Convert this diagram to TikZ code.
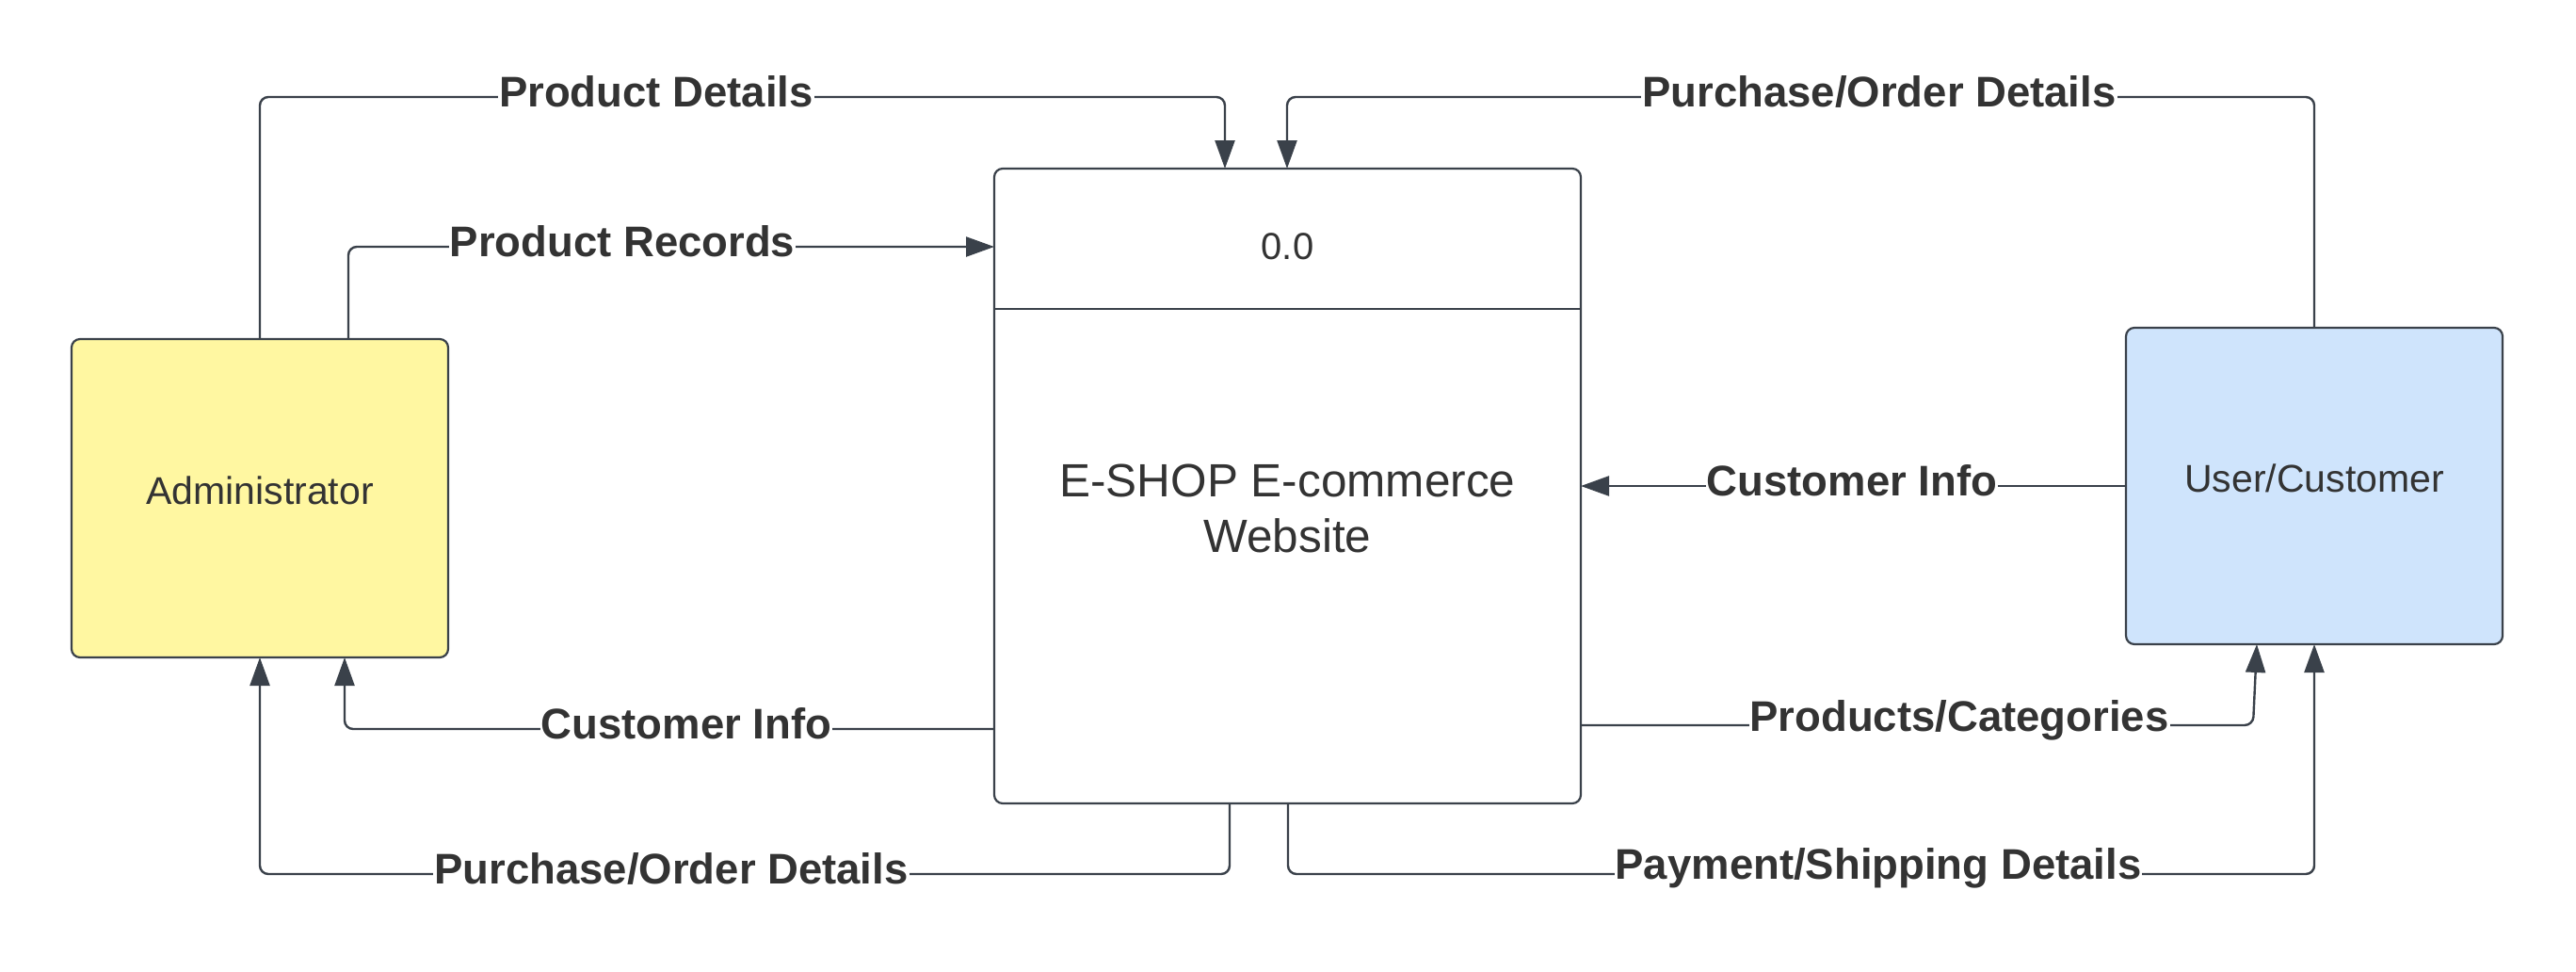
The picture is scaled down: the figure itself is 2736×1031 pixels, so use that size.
\documentclass[tikz,border=0pt]{standalone}
\usepackage{fontspec}
\setmainfont{Liberation Sans}
\usetikzlibrary{arrows.meta,calc}
\definecolor{lineC}{HTML}{3A414A}
\definecolor{textC}{HTML}{333333}
\definecolor{adminFill}{HTML}{FFF7A1}
\definecolor{userFill}{HTML}{CFE4FC}
\begin{document}
\begin{tikzpicture}[x=1pt,y=-1pt,
  box/.style={draw=lineC,line width=2.2pt,rounded corners=9pt,inner sep=0pt,
    text=textC,font=\fontsize{41}{50}\selectfont},
  flow/.style={draw=lineC,line width=2.4pt,rounded corners=9pt,
    -{Triangle[length=30pt,width=21pt]}},
  lbl/.style={fill=white,text=textC,inner sep=1pt,
    font=\bfseries\fontsize{45.5}{50}\selectfont}]
\useasboundingbox (0,0) rectangle (2736,1031);
% nodes
\node[box,fill=adminFill,minimum width=400pt,minimum height=338pt] (admin) at (276,529) {};
\node[text=textC,font=\fontsize{41}{50}\selectfont] (admintxt) at (276,521) {Administrator};
\node[box,fill=white,minimum width=623pt,minimum height=674pt] (proc) at (1367.5,516) {};
\node[box,fill=userFill,minimum width=400pt,minimum height=336pt] (user) at (2458,516) {};
\node[text=textC,font=\fontsize{41}{50}\selectfont] (usertxt) at (2458,508) {User/Customer};
\coordinate (divL) at (1056,328);
\coordinate (divR) at (1679,328);
\draw[draw=lineC,line width=2.6pt] (divL) -- (divR);
\node[text=textC,font=\fontsize{40}{50}\selectfont] (hdr) at (1367.5,262) {0.0};
\node[text=textC,font=\fontsize{49.5}{59}\selectfont,align=center] (ptxt) at (1367.5,540) {E-SHOP E-commerce\\Website};
% helper coordinates
\coordinate (a1) at (276,360);
\coordinate (a2) at (370,360);
\coordinate (a3) at (276,698);
\coordinate (a4) at (366,698);
\coordinate (p1) at (1301,179);
\coordinate (p2) at (1367,179);
\coordinate (p3) at (1056,262);
\coordinate (p4) at (1679,516);
\coordinate (p5) at (1056,774);
\coordinate (p6) at (1306,853);
\coordinate (p7) at (1679,770);
\coordinate (p8) at (1368,853);
\coordinate (u1) at (2458,348);
\coordinate (u2) at (2258,516);
\coordinate (u3) at (2397,684);
\coordinate (u4) at (2458,684);
% connectors
\draw[flow] (a1) -- (276,103) -- (1301,103) -- (p1);
\draw[flow] (a2) -- (370,262) -- (p3);
\draw[flow] (u1) -- (2458,103) -- (1367,103) -- (p2);
\draw[flow] (u2) -- (p4);
\draw[flow] (p5) -- (366,774) -- (a4);
\draw[flow] (p6) -- (1306,928) -- (276,928) -- (a3);
\draw[flow] (p7) -- (2393,770) -- (u3);
\draw[flow] (p8) -- (1368,928) -- (2458,928) -- (u4);
% labels
\node[lbl] (l1) at (697,97) {Product Details};
\node[lbl] (l2) at (661,256) {Product Records};
\node[lbl] (l3) at (1996,97) {Purchase/Order Details};
\node[lbl] (l4) at (1967,510) {Customer Info};
\node[lbl] (l5) at (729,768) {Customer Info};
\node[lbl] (l6) at (713,922) {Purchase/Order Details};
\node[lbl] (l7) at (2081,765) {Products/Categories};
\node[lbl] (l8) at (1995,922) {Payment/Shipping Details};
\end{tikzpicture}
\end{document}
